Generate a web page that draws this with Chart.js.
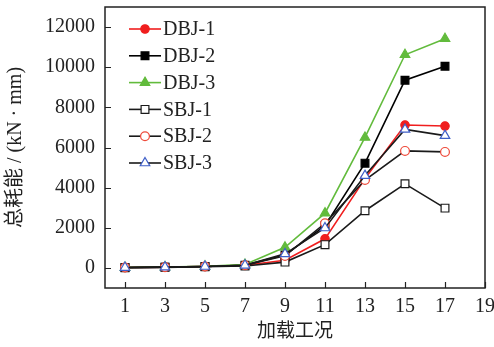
<!DOCTYPE html>
<html>
<head>
<meta charset="utf-8">
<script src="https://cdn.jsdelivr.net/npm/chart.js@4"></script>
<style>
  html, body { margin: 0; padding: 0; background: #fff; }
  #wrap { width: 494px; height: 347px; }
</style>
</head>
<body>
<div id="wrap"><canvas id="energyChart"></canvas></div>
<script>
// load steps and cumulative dissipated energy (kN·mm)
const loadSteps = [1, 3, 5, 7, 9, 11, 13, 15, 17];
const dbj1 = [20, 40, 70, 130, 380, 1450, 4450, 7120, 7070];
const dbj2 = [20, 40, 70, 140, 640, 2100, 5220, 9350, 10050];
const dbj3 = [20, 45, 80, 170, 1030, 2730, 6500, 10620, 11420];
const sbj1 = [10, 30, 60, 100, 290, 1160, 2850, 4190, 2980];
const sbj2 = [20, 40, 70, 130, 600, 2220, 4380, 5830, 5780];
const sbj3 = [20, 40, 70, 130, 700, 1990, 4600, 6900, 6590];
const xTicks = [1, 3, 5, 7, 9, 11, 13, 15, 17, 19];
const yTicks = [0, 2000, 4000, 6000, 8000, 10000, 12000];

const SERIF = '"Liberation Serif", "DejaVu Serif", serif';
const MIXED = '"Liberation Serif", "Noto Sans CJK SC", serif';

function pts(arr) {
  return arr.map((v, i) => ({ x: loadSteps[i], y: v }));
}

function series(label, data, line, mark, style, radius, filled, order) {
  return {
    label: label,
    data: pts(data),
    borderColor: line,
    borderWidth: 1.6,
    pointStyle: style,
    pointRadius: radius,
    pointBorderColor: mark,
    pointBackgroundColor: filled ? mark : '#ffffff',
    pointBorderWidth: 1.2,
    tension: 0,
    order: order
  };
}

const datasets = [
  series('DBJ-1', dbj1, '#f01e1e', '#f01e1e', 'circle', 4.2, true, 5),
  series('DBJ-2', dbj2, '#000000', '#000000', 'rect', 5.5, true, 4),
  series('DBJ-3', dbj3, '#62bb3c', '#62bb3c', 'triangle', 5.5, true, 3),
  series('SBJ-1', sbj1, '#1a1a1a', '#1a1a1a', 'rect', 5.5, false, 2),
  series('SBJ-2', sbj2, '#1a1a1a', '#ee4a3a', 'circle', 4.4, false, 1),
  series('SBJ-3', sbj3, '#1a1a1a', '#3f5fc8', 'triangle', 5.5, false, 0)
];

// frame, inward ticks and the legend box in the upper left corner
const framePlugin = {
  id: 'frame',
  afterDraw(chart) {
    const { ctx, chartArea: a, scales } = chart;
    ctx.save();
    ctx.strokeStyle = '#222';
    ctx.lineWidth = 1.5;
    ctx.strokeRect(a.left, a.top, a.right - a.left, a.bottom - a.top);
    ctx.lineWidth = 1.2;
    ctx.beginPath();
    xTicks.forEach(t => {
      const px = Math.round(scales.x.getPixelForValue(t)) + 0.5;
      ctx.moveTo(px, a.bottom);
      ctx.lineTo(px, a.bottom - 6);
    });
    yTicks.forEach(t => {
      const py = Math.round(scales.y.getPixelForValue(t)) + 0.5;
      ctx.moveTo(a.left, py);
      ctx.lineTo(a.left + 6, py);
    });
    ctx.stroke();

    const x0 = a.left + 24, x1 = a.left + 56;
    chart.data.datasets.forEach((ds, i) => {
      const y = a.top + 22 + i * 26.8;
      ctx.strokeStyle = ds.borderColor;
      ctx.lineWidth = 1.6;
      ctx.beginPath();
      ctx.moveTo(x0, y);
      ctx.lineTo(x1, y);
      ctx.stroke();
      ctx.fillStyle = ds.pointBackgroundColor;
      ctx.strokeStyle = ds.pointBorderColor;
      ctx.lineWidth = ds.pointBorderWidth;
      Chart.helpers.drawPoint(ctx, { pointStyle: ds.pointStyle, radius: ds.pointRadius, borderWidth: ds.pointBorderWidth }, (x0 + x1) / 2, y);
      ctx.fillStyle = '#222';
      ctx.font = '20px ' + SERIF;
      ctx.textAlign = 'left';
      ctx.textBaseline = 'middle';
      ctx.fillText(ds.label, x1 + 2, y + 1);
    });
    ctx.restore();
  }
};

new Chart(document.getElementById('energyChart'), {
  type: 'line',
  data: { datasets: datasets },
  options: {
    responsive: true,
    maintainAspectRatio: false,
    animation: false,
    layout: { padding: { top: 7, right: 9, left: 0, bottom: 0 } },
    plugins: { legend: { display: false }, tooltip: { enabled: false } },
    scales: {
      x: {
        type: 'linear',
        min: 0,
        max: 19,
        afterBuildTicks: s => { s.ticks = xTicks.map(v => ({ value: v })); },
        afterFit: s => { s.height = 59; s.paddingLeft = 0; s.paddingRight = 9; },
        grid: { display: false, drawTicks: false },
        border: { display: false },
        ticks: { color: '#222', font: { family: SERIF, size: 20 }, padding: 7, maxRotation: 0, callback: v => String(v) },
        title: { display: true, text: '加载工况', color: '#222', font: { family: MIXED, size: 19 }, padding: { top: 0 } }
      },
      y: {
        min: -1000,
        max: 13000,
        afterBuildTicks: s => { s.ticks = yTicks.map(v => ({ value: v })); },
        afterFit: s => { s.width = 105; s.paddingTop = 0; s.paddingBottom = 0; },
        grid: { display: false, drawTicks: false },
        border: { display: false },
        ticks: { color: '#222', font: { family: SERIF, size: 20 }, padding: 10, callback: v => String(v) },
        title: { display: true, text: '总耗能 / (kN · mm)', color: '#222', font: { family: MIXED, size: 20 }, padding: { bottom: 4 } }
      }
    }
  },
  plugins: [framePlugin]
});
</script>
</body>
</html>
